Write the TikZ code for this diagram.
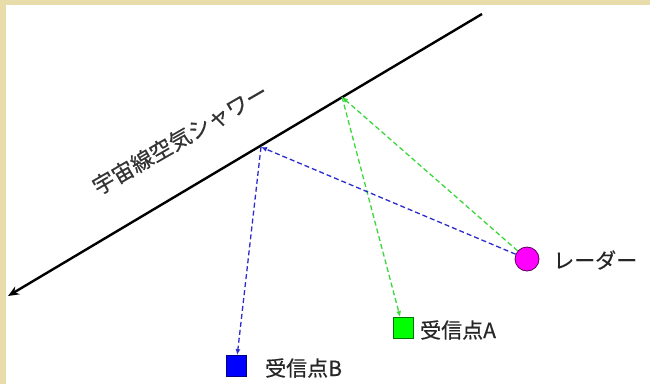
\documentclass[tikz,border=0pt]{standalone}
\usepackage{fontspec}
\newfontfamily\jp[FakeBold=0.4]{Noto Sans CJK JP}
\usetikzlibrary{arrows.meta}
\definecolor{beige}{RGB}{232,221,170}
\definecolor{bluedsh}{RGB}{45,45,205}
\definecolor{greendsh}{RGB}{60,215,60}
\definecolor{radar}{RGB}{255,0,255}
\tikzset{
  lbl/.style={font=\jp\fontsize{21pt}{24pt}\selectfont, text=black!85, inner sep=0pt, anchor=west},
  bluedash/.style={draw=bluedsh, line width=1.3pt, dash pattern=on 5pt off 3pt, -{Latex[length=6pt,width=5pt]}},
  greendash/.style={draw=greendsh, line width=1.3pt, dash pattern=on 5pt off 3pt, -{Latex[length=6pt,width=5pt]}},
  recv/.style={rectangle, minimum width=20pt, minimum height=21pt, inner sep=0pt, line width=0.8pt},
}
\begin{document}
\begin{tikzpicture}[x=1pt,y=-1pt]
\useasboundingbox (0,0) rectangle (650,384);
\fill[beige] (0,0) rectangle (650,384);
\fill[white] (6,5) rectangle (650,384);
% shower axis
\coordinate (S1) at (482,14);
\coordinate (S2) at (8,296);
\draw[line width=2.4pt, -{Stealth[length=11pt,width=9pt]}] (S1) -- (S2);
\node[font=\jp\fontsize{22pt}{26pt}\selectfont, rotate=30, inner sep=0pt, text=black!80] (ST) at (180,139) {宇宙線空気シャワー};
% points
\coordinate (PB) at (261,147);
\coordinate (PG) at (342,97);
\node[circle, minimum size=24pt, inner sep=0pt, fill=radar, draw=violet!70!black, line width=0.8pt] (R) at (527,259) {};
\node[recv, fill=green, draw=green!45!black] (A) at (403,328) {};
\node[recv, fill=blue, draw=blue!50!black] (B) at (236,366) {};
\node[lbl] (RL) at (553,260) {レーダー};
\node[lbl] (AL) at (420,330) {受信点A};
\node[lbl] (BL) at (265,368) {受信点B};
% rays
\draw[greendash] (R) -- (PG);
\draw[greendash] (PG) -- (A);
\draw[bluedash] (R) -- (PB);
\draw[bluedash] (PB) -- (B);
\end{tikzpicture}
\end{document}
